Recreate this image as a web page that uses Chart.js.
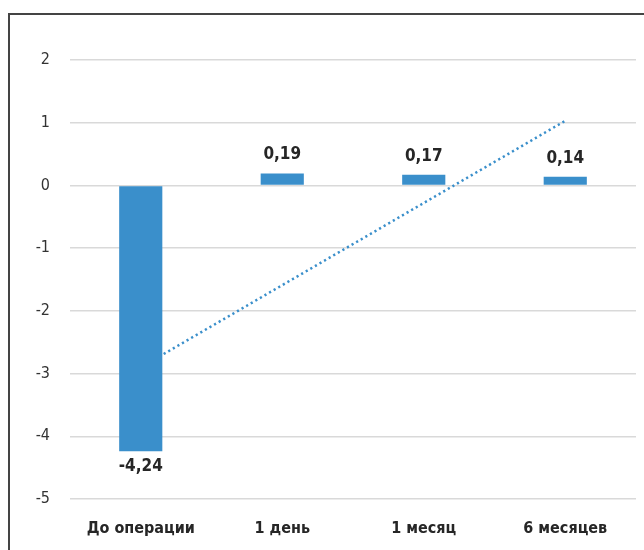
<!DOCTYPE html>
<html lang="ru">
<head>
<meta charset="utf-8">
<script src="https://cdn.jsdelivr.net/npm/chart.js@4"></script>
<style>
  body { margin: 0; background: #fff; overflow: hidden; }
  .frame { position: absolute; left: 8px; top: 13px; width: 700px; height: 600px; border: 2px solid #444; }
  .wrap { position: absolute; left: 0; top: 0; width: 644px; height: 550px; }
</style>
</head>
<body>
<div class="frame"></div>
<div class="wrap"><canvas id="chart"></canvas></div>
<script>
const FONT = '"Liberation Sans Narrow", "DejaVu Sans Condensed", "Roboto Condensed", sans-serif';

// periods and mean change per period
const periods = ['До операции', '1 день', '1 месяц', '6 месяцев'];
const changes = [-4.24, 0.19, 0.17, 0.14];
// linear trend read at each period
const trend = [-2.90, -1.59, -0.28, 1.03];
const yTicks = [2, 1, 0, -1, -2, -3, -4, -5];

// value labels over / under each bar, decimal comma
const barLabels = {
    id: 'barLabels',
    afterDatasetsDraw(chart) {
        const ctx = chart.ctx;
        const meta = chart.getDatasetMeta(0);
        ctx.save();
        ctx.font = 'bold 17px ' + FONT;
        ctx.fillStyle = '#262626';
        ctx.textAlign = 'center';
        meta.data.forEach((bar, i) => {
            const v = changes[i];
            const text = v.toFixed(2).replace('.', ',');
            if (v >= 0) {
                ctx.textBaseline = 'bottom';
                ctx.fillText(text, bar.x, bar.y - 10);
            } else {
                ctx.textBaseline = 'top';
                ctx.fillText(text, bar.x, bar.y + 7);
            }
        });
        ctx.restore();
    }
};

new Chart(document.getElementById('chart'), {
    type: 'bar',
    data: {
        labels: periods,
        datasets: [{
            type: 'bar',
            data: changes,
            backgroundColor: '#3a8fcb',
            categoryPercentage: 1,
            barPercentage: 0.305,
            order: 1
        }, {
            type: 'line',
            data: trend,
            borderColor: '#3a8fcb',
            borderWidth: 2.5,
            borderDash: [2.2, 3.1],
            pointRadius: 0,
            fill: false,
            order: 2
        }]
    },
    options: {
        responsive: true,
        maintainAspectRatio: false,
        animation: false,
        layout: { padding: { top: 60, right: 8, left: 0, bottom: 0 } },
        plugins: {
            legend: { display: false },
            tooltip: { enabled: false }
        },
        scales: {
            x: {
                grid: { display: false },
                border: { display: false },
                ticks: {
                    color: '#262626',
                    font: { family: FONT, size: 16, weight: 'bold' },
                    padding: 12,
                    maxRotation: 0
                },
                afterFit(scale) { scale.height = 51; }
            },
            y: {
                min: -5,
                max: 2,
                afterBuildTicks(scale) {
                    scale.ticks = yTicks.map(v => ({ value: v }));
                },
                grid: { color: '#d9d9d9', lineWidth: 1.5, drawTicks: false },
                border: { display: false },
                ticks: {
                    color: '#333',
                    font: { family: FONT, size: 16 },
                    padding: 20
                },
                afterFit(scale) { scale.width = 70; }
            }
        }
    },
    plugins: [barLabels]
});
</script>
</body>
</html>
